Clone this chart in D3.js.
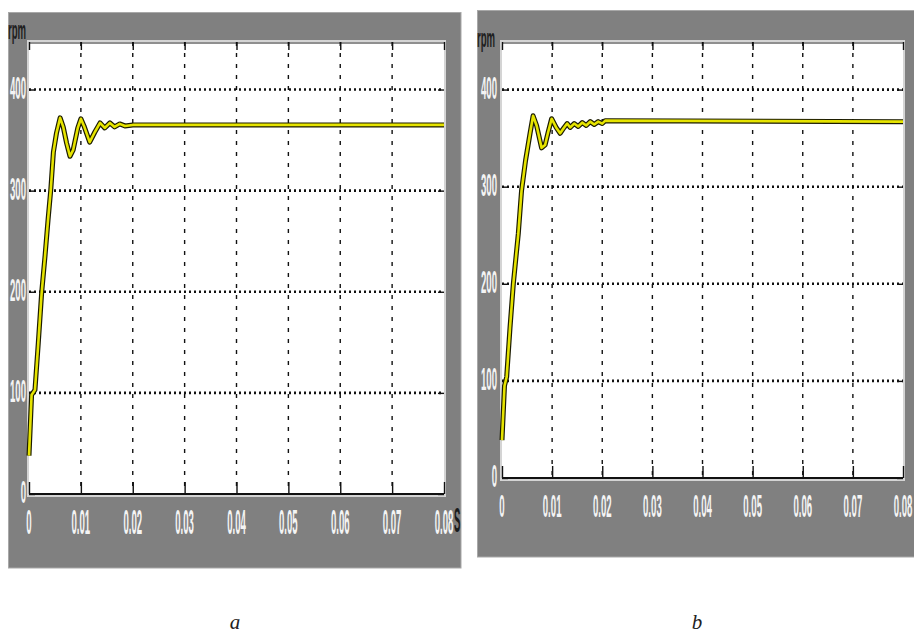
<!DOCTYPE html>
<html>
<head>
<meta charset="utf-8">
<script src="https://cdn.jsdelivr.net/npm/d3@7"></script>
<style>
  html, body { margin: 0; padding: 0; background: #ffffff; }
  svg { display: block; }
</style>
</head>
<body>
<svg id="chart" width="914" height="635"></svg>
<script>
// Shared axis ticks
const timeTicks = [0, 0.01, 0.02, 0.03, 0.04, 0.05, 0.06, 0.07, 0.08];
const timeTickLabels = ["0", "0.01", "0.02", "0.03", "0.04", "0.05", "0.06", "0.07", "0.08"];
const speedTicks = [0, 100, 200, 300, 400];
const speedTickLabels = ["0", "100", "200", "300", "400"];
const gridTimes = [0.01, 0.02, 0.03, 0.04, 0.05, 0.06, 0.07];
const gridSpeeds = [100, 200, 300, 400];

// Speed response (a): time in s, speed in rpm
const timeA = [0, 0.0005, 0.00115, 0.0018, 0.00244, 0.0031, 0.00367, 0.0042, 0.0047, 0.0053,
  0.0060, 0.0066, 0.00725, 0.0079, 0.0085, 0.0094, 0.0100, 0.0106, 0.0117, 0.0127,
  0.0137, 0.0146, 0.0156, 0.0165, 0.0175, 0.0185, 0.0200, 0.0800];
const speedA = [38, 98, 103, 150, 199, 236, 271, 301, 338, 357,
  372, 363, 347, 334, 340, 362, 371, 364, 348, 358,
  367, 362, 367, 363, 366, 364, 365, 365];

// Speed response (b)
const timeB = [0, 0.0005, 0.00093, 0.0016, 0.00226, 0.00326, 0.0039, 0.0047, 0.0056, 0.0062,
  0.0069, 0.0079, 0.0086, 0.0092, 0.0099, 0.0108, 0.0116, 0.0124, 0.0130, 0.0136,
  0.0144, 0.0152, 0.0160, 0.0168, 0.0176, 0.0184, 0.0192, 0.0200, 0.0206, 0.0800];
const speedB = [39, 95, 104, 155, 200, 252, 296, 327, 355, 373,
  363, 340, 343, 356, 370, 361, 355, 361, 365, 361,
  365, 362, 366, 363, 367, 364, 367, 365, 368, 367];

const svg = d3.select("#chart");

const FRAME_GRAY = "#808080";
const LABEL_COLOR = "#f4f4f4";

// Condensed scope-style label: tall, narrow digits
function scopeText(g, str, cx, cy, sx, sy, anchor, color) {
  const fs = 12;
  const capH = fs * 0.716;
  g.append("text")
    .attr("transform", `translate(${cx},${cy + capH * sy / 2}) scale(${sx},${sy})`)
    .attr("font-family", "Liberation Sans, Arial, sans-serif")
    .attr("font-size", fs)
    .attr("font-weight", "bold")
    .attr("text-anchor", anchor)
    .attr("fill", color || LABEL_COLOR)
    .text(str);
}

function drawPanel(cfg, times, speeds) {
  const g = svg.append("g");
  const { frame, plot } = cfg;

  // Scope window
  g.append("rect")
    .attr("x", frame.x0).attr("y", frame.y0)
    .attr("width", frame.x1 - frame.x0).attr("height", frame.y1 - frame.y0)
    .attr("fill", FRAME_GRAY)
    .attr("stroke", "#a8a8a8").attr("stroke-width", 1);

  const x = d3.scaleLinear().domain([0, 0.08]).range([plot.x0, plot.x1]);
  const y = d3.scaleLinear().domain([0, cfg.yMax]).range([plot.y1, plot.y0]);

  // Plot area
  g.append("rect")
    .attr("x", plot.x0 - 1).attr("y", plot.y0 - 1)
    .attr("width", plot.x1 - plot.x0 + 2).attr("height", plot.y1 - plot.y0 + 3)
    .attr("fill", "#ffffff")
    .attr("stroke", "#d4d4d4").attr("stroke-width", 2);
  g.append("line")
    .attr("x1", plot.x0).attr("x2", plot.x1)
    .attr("y1", plot.y0 + 1).attr("y2", plot.y0 + 1)
    .attr("stroke", "#202020").attr("stroke-width", 1.2);

  // Grid
  g.append("g").selectAll("line").data(gridTimes).join("line")
    .attr("x1", d => x(d)).attr("x2", d => x(d))
    .attr("y1", plot.y0).attr("y2", plot.y1)
    .attr("stroke", "#111").attr("stroke-width", 1.4)
    .attr("stroke-dasharray", "4,7");
  g.append("g").selectAll("line").data(gridSpeeds).join("line")
    .attr("x1", plot.x0).attr("x2", plot.x1)
    .attr("y1", d => y(d)).attr("y2", d => y(d))
    .attr("stroke", "#111").attr("stroke-width", 2.6)
    .attr("stroke-dasharray", "2,3");

  // Axes: inward ticks on all four sides
  const axB = g.append("g").attr("transform", `translate(0,${plot.y1})`)
    .call(d3.axisBottom(x).tickValues(timeTicks).tickSize(-12).tickFormat(""));
  const axT = g.append("g").attr("transform", `translate(0,${plot.y0})`)
    .call(d3.axisTop(x).tickValues(timeTicks).tickSize(-8).tickFormat(""));
  const axL = g.append("g").attr("transform", `translate(${plot.x0},0)`)
    .call(d3.axisLeft(y).tickValues(speedTicks).tickSize(-6).tickFormat(""));
  const axR = g.append("g").attr("transform", `translate(${plot.x1},0)`)
    .call(d3.axisRight(y).tickValues(speedTicks).tickSize(-6).tickFormat(""));
  [axB, axT, axL, axR].forEach(a => {
    a.select(".domain").attr("stroke", "none");
    a.selectAll(".tick line").attr("stroke", "#111").attr("stroke-width", 1.4);
  });
  g.append("line")
    .attr("x1", plot.x0).attr("x2", plot.x1)
    .attr("y1", plot.y1).attr("y2", plot.y1)
    .attr("stroke", "#111").attr("stroke-width", 2);

  // Tick labels
  timeTicks.forEach((t, i) => {
    scopeText(g, timeTickLabels[i], x(t), cfg.xLabelY, cfg.xSx, cfg.xSy, "middle");
  });
  speedTicks.forEach((v, i) => {
    scopeText(g, speedTickLabels[i], cfg.yLabelX, y(v) - 2, cfg.ySx, cfg.ySy, "end");
  });
  scopeText(g, "rpm", cfg.rpm.x, cfg.rpm.y, cfg.ySx, cfg.ySy * 0.8, "middle", "#1e1e1e");
  if (cfg.unit) {
    scopeText(g, "S", cfg.unit.x, cfg.unit.y, cfg.xSx, cfg.xSy, "start", "#1a1a1a");
  }

  // Speed trace: dark outline under a yellow core
  const pts = times.map((t, i) => [t, speeds[i]]);
  const line = d3.line().x(d => x(d[0])).y(d => y(d[1])).curve(d3.curveLinear);
  g.append("path").datum(pts)
    .attr("d", line).attr("fill", "none")
    .attr("stroke", "#1c1c00").attr("stroke-width", 5)
    .attr("stroke-linejoin", "round");
  g.append("path").datum(pts)
    .attr("d", line).attr("fill", "none")
    .attr("stroke", "#e6e400").attr("stroke-width", 2.6)
    .attr("stroke-linejoin", "round");

  // Caption
  svg.append("text")
    .attr("x", cfg.caption.x).attr("y", cfg.caption.y)
    .attr("font-family", "Liberation Serif, Times New Roman, serif")
    .attr("font-style", "italic")
    .attr("font-size", 21)
    .attr("text-anchor", "middle")
    .attr("fill", "#222")
    .text(cfg.caption.text);
}

drawPanel({
  frame: { x0: 8.5, y0: 12.5, x1: 461, y1: 568 },
  plot: { x0: 29, y0: 42, x1: 444, y1: 494 },
  yMax: 447,
  xLabelY: 521, xSx: 0.8, xSy: 3.0,
  yLabelX: 26, ySx: 0.8, ySy: 2.6,
  rpm: { x: 17, y: 30 },
  unit: { x: 454, y: 519 },
  caption: { x: 235, y: 629, text: "a" }
}, timeA, speedA);

drawPanel({
  frame: { x0: 477.5, y0: 10.5, x1: 930, y1: 557 },
  plot: { x0: 502, y0: 42, x1: 903, y1: 478 },
  yMax: 449,
  xLabelY: 506, xSx: 0.8, xSy: 2.6,
  yLabelX: 497, ySx: 0.8, ySy: 2.6,
  rpm: { x: 486, y: 38 },
  unit: null,
  caption: { x: 697, y: 629, text: "b" }
}, timeB, speedB);
</script>
</body>
</html>
